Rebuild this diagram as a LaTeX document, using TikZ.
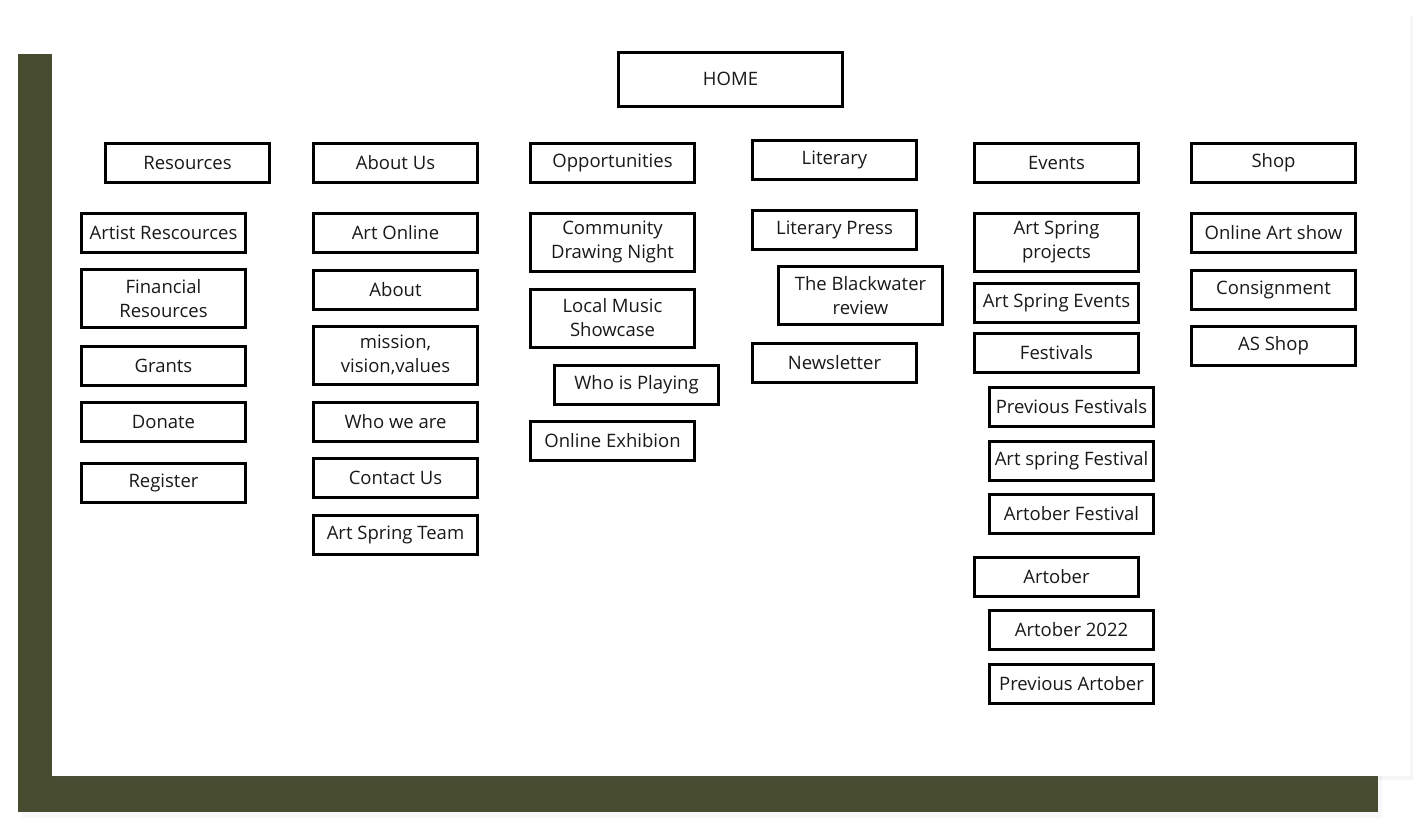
\documentclass[tikz,border=0pt]{standalone}
\usepackage{fontspec}
\setsansfont{Open Sans}
\usetikzlibrary{positioning,shadows}
\definecolor{asOlive}{RGB}{71,75,48}
\definecolor{asInk}{RGB}{25,25,25}
\definecolor{asCard}{RGB}{255,255,255}
\tikzset{
    base/.style={font=\sffamily\fontsize{18.5}{24}\selectfont, align=center, text=asInk},
    page/.style={base, rectangle, draw=black, line width=3pt, fill=white,
                 minimum width=164pt, minimum height=39pt, inner sep=0pt},
    tallpage/.style={page, minimum height=58pt},
    homepage/.style={page, minimum width=224pt, minimum height=54pt},
    backdrop/.style={fill=asOlive, drop shadow={opacity=0.06, shadow xshift=4pt, shadow yshift=-6pt}},
    card/.style={fill=asCard, drop shadow={opacity=0.07, shadow xshift=3pt, shadow yshift=-4pt}}
}

\begin{document}
\begin{tikzpicture}[x=1pt, y=-1pt]
  \useasboundingbox (0,0) rectangle (1428,836);
  % backdrop and card
  \fill[backdrop] (18,54) rectangle (1378,812);
  \fill[card] (52,12) rectangle (1410,776);

  % top of the site map
  \node[homepage] (home) at (730.5,79) {HOME};

  % Resources column
  \begin{scope}[xshift=163.5pt]
    \node[page] (resources) at (24,162.5) {Resources};
    \node[page] (artist) at (0,233) {Artist Rescources};
    \node[tallpage] (financial) at (0,298.5) {Financial\\Resources};
    \node[page] (grants) at (0,365.5) {Grants};
    \node[page] (donate) at (0,421.5) {Donate};
    \node[page] (register) at (0,482.5) {Register};
  \end{scope}

  % About Us column
  \begin{scope}[xshift=395.5pt]
    \node[page] (aboutus) at (0,162.5) {About Us};
    \node[page] (artonline) at (0,233) {Art Online};
    \node[page] (about) at (0,289.5) {About};
    \node[tallpage] (mission) at (0,355) {mission,\\vision,values};
    \node[page] (whoweare) at (0,421.5) {Who we are};
    \node[page] (contact) at (0,477.5) {Contact Us};
    \node[page] (team) at (0,534.5) {Art Spring Team};
  \end{scope}

  % Opportunities column
  \begin{scope}[xshift=612.5pt]
    \node[page] (opportunities) at (0,162.5) {Opportunities};
    \node[tallpage] (drawing) at (0,242) {Community\\Drawing Night};
    \node[tallpage] (music) at (0,318) {Local Music\\Showcase};
    \node[page] (playing) at (24,384.5) {Who is Playing};
    \node[page] (exhibion) at (0,440.5) {Online Exhibion};
  \end{scope}

  % Literary column
  \begin{scope}[xshift=834.5pt]
    \node[page] (literary) at (0,160) {Literary};
    \node[page] (press) at (0,230) {Literary Press};
    \node[tallpage] (blackwater) at (26,295.5) {The Blackwater\\review};
    \node[page] (newsletter) at (0,362.5) {Newsletter};
  \end{scope}

  % Events column
  \begin{scope}[xshift=1056.5pt]
    \node[page] (events) at (0,162.5) {Events};
    \node[tallpage] (projects) at (0,242) {Art Spring\\projects};
    \node[page] (springevents) at (0,303) {Art Spring Events};
    \node[page] (festivals) at (0,353) {Festivals};
    \node[page] (prevfest) at (15,406.5) {Previous Festivals};
    \node[page] (springfest) at (15,460.5) {Art spring Festival};
    \node[page] (artoberfest) at (15,514) {Artober Festival};
    \node[page] (artober) at (0,576.5) {Artober};
    \node[page] (artober22) at (15,629.5) {Artober 2022};
    \node[page] (prevartober) at (15,683.5) {Previous Artober};
  \end{scope}

  % Shop column
  \begin{scope}[xshift=1273.5pt]
    \node[page] (shop) at (0,162.5) {Shop};
    \node[page] (artshow) at (0,233) {Online Art show};
    \node[page] (consignment) at (0,289.5) {Consignment};
    \node[page] (asshop) at (0,346) {AS Shop};
  \end{scope}
\end{tikzpicture}
\end{document}
